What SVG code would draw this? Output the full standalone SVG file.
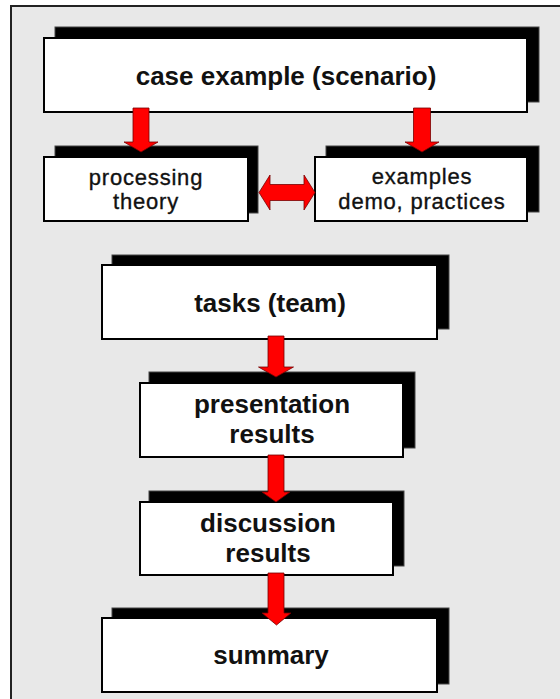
<svg xmlns="http://www.w3.org/2000/svg" width="560" height="699" viewBox="0 0 560 699">
<style>
.shadow{fill:#000;stroke:#444;stroke-width:1}
.box{fill:#fff;stroke:#000;stroke-width:2}
.big{font-family:"Liberation Sans",Arial,sans-serif;font-size:26px;font-weight:bold;fill:#111;text-anchor:middle}
.small{font-family:"Liberation Sans",Arial,sans-serif;font-size:22px;letter-spacing:0.8px;fill:#111;stroke:#111;stroke-width:0.35;text-anchor:middle}
.arrow{fill:#ff0000;stroke:#700;stroke-width:0.8;stroke-linejoin:miter}
</style>
<rect x="0" y="0" width="560" height="699" fill="#fff"/>
<rect x="11" y="6" width="570" height="710" fill="#e8e8e8" stroke="#222" stroke-width="2"/>
<g id="case">
<rect class="shadow" x="55" y="27" width="484" height="75"/>
<rect class="box" x="44" y="38" width="483" height="74"/>
<text class="big" x="286" y="85">case example (scenario)</text>
</g>
<g id="processing">
<rect class="shadow" x="55" y="146" width="203" height="67"/>
<rect class="box" x="44" y="157" width="204" height="64"/>
<text class="small" x="146" y="185">processing</text>
<text class="small" x="146" y="209">theory</text>
</g>
<g id="examples">
<rect class="shadow" x="326" y="146" width="213" height="66"/>
<rect class="box" x="315" y="157" width="212" height="64"/>
<text class="small" x="422" y="184">examples</text>
<text class="small" x="422" y="209">demo, practices</text>
</g>
<g id="tasks">
<rect class="shadow" x="112" y="255" width="337" height="74"/>
<rect class="box" x="102" y="265" width="335" height="74"/>
<text class="big" x="270" y="312">tasks (team)</text>
</g>
<g id="presentation">
<rect class="shadow" x="149" y="372" width="266" height="76"/>
<rect class="box" x="140" y="383" width="263" height="74"/>
<text class="big" x="272" y="413">presentation</text>
<text class="big" x="272" y="443">results</text>
</g>
<g id="discussion">
<rect class="shadow" x="149" y="491" width="255" height="75"/>
<rect class="box" x="140" y="502" width="253" height="73"/>
<text class="big" x="268" y="532">discussion</text>
<text class="big" x="268" y="562">results</text>
</g>
<g id="summary">
<rect class="shadow" x="112" y="608" width="337" height="76"/>
<rect class="box" x="102" y="618" width="335" height="74"/>
<text class="big" x="271" y="664">summary</text>
</g>
<g id="connectors">
<polygon class="arrow" points="133,108 149,108 149,142 158,142 141,152 124,142 133,142"/>
<polygon class="arrow" points="413.5,108 430.5,108 430.5,142 439,142 422,152 405,142 413.5,142"/>
<polygon class="arrow" points="259,192.5 270,175 270,184.5 304,184.5 304,175 315,192.5 304,210 304,200.5 270,200.5 270,210"/>
<polygon class="arrow" points="268,336 284,336 284,367 293.5,367 276,377 258.5,367 268,367"/>
<polygon class="arrow" points="268,455 284,455 284,492 290,492 276,502 262,492 268,492"/>
<polygon class="arrow" points="268,573 284,573 284,613 291,613 276.5,625 262,613 268,613"/>
</g>
</svg>
